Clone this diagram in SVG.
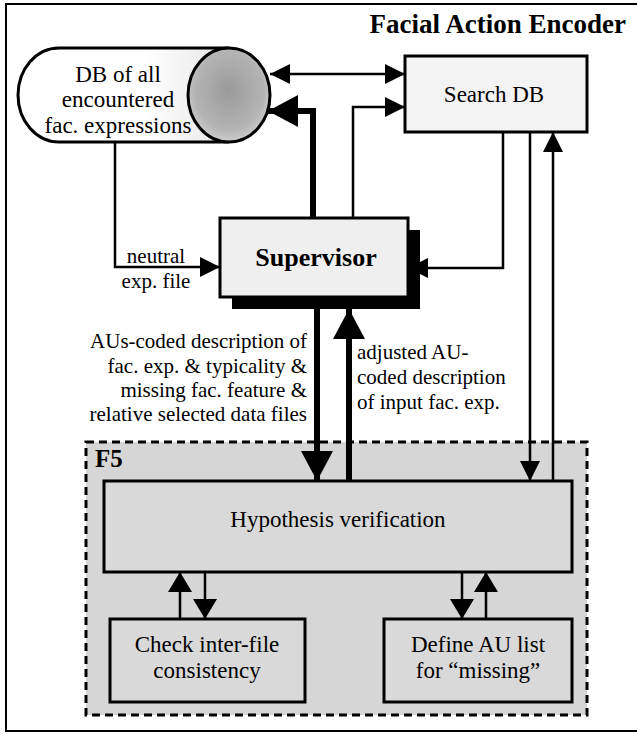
<svg xmlns="http://www.w3.org/2000/svg" width="637" height="734" viewBox="0 0 637 734">
  <style>
    .txt { font-family: "Liberation Serif", "Times New Roman", serif; fill: #000; }
    .node { font-size: 23px; text-anchor: middle; }
    .lbl { font-size: 21px; }
    .bold { font-weight: bold; }
    .box { stroke: #000; stroke-width: 3; }
    .thin { fill: none; stroke: #000; stroke-width: 2.5; }
    .thick { fill: none; stroke: #000; stroke-width: 6; }
  </style>
  <defs>
    <radialGradient id="dbEnd" cx="0.5" cy="0.45" r="0.6">
      <stop offset="0" stop-color="#9a9a9a"/>
      <stop offset="0.7" stop-color="#b4b4b4"/>
      <stop offset="1" stop-color="#d6d6d6"/>
    </radialGradient>
    <linearGradient id="dbBody" x1="0" y1="0" x2="1" y2="0">
      <stop offset="0" stop-color="#ffffff"/>
      <stop offset="0.6" stop-color="#ffffff"/>
      <stop offset="1" stop-color="#e6e6e6"/>
    </linearGradient>
    <marker id="ahThin" markerUnits="userSpaceOnUse" markerWidth="22" markerHeight="22" refX="20" refY="10" orient="auto-start-reverse">
      <path d="M0,0 L20,10 L0,20 Z" fill="#000"/>
    </marker>
    <marker id="ahMid" markerUnits="userSpaceOnUse" markerWidth="22" markerHeight="26" refX="20" refY="12" orient="auto">
      <path d="M0,0 L20,12 L0,24 Z" fill="#000"/>
    </marker>
    <marker id="ahThick" markerUnits="userSpaceOnUse" markerWidth="32" markerHeight="34" refX="30" refY="16" orient="auto">
      <path d="M0,0 L30,16 L0,32 Z" fill="#000"/>
    </marker>
  </defs>

  <!-- outer frame (right edge runs off the sheet) -->
  <rect x="6" y="4" width="640" height="727" fill="#fff" stroke="#000" stroke-width="2"/>

  <text class="txt bold" x="626" y="33" font-size="27" text-anchor="end">Facial Action Encoder</text>

  <!-- F5 group container -->
  <g id="f5">
    <rect x="86" y="442" width="501" height="273" fill="#d6d6d6" stroke="#000" stroke-width="3" stroke-dasharray="8 5"/>
    <text class="txt bold" x="95" y="467" font-size="25">F5</text>
  </g>

  <g id="db">
    <path d="M229,48 H59 A41,47 0 0 0 59,142 H229" fill="url(#dbBody)" stroke="#000" stroke-width="3"/>
    <ellipse cx="229" cy="95" rx="41" ry="47" fill="url(#dbEnd)" stroke="#000" stroke-width="3"/>
    <text class="txt node" x="118" y="82">DB of all</text>
    <text class="txt node" x="118" y="107">encountered</text>
    <text class="txt node" x="118" y="133">fac. expressions</text>
  </g>

  <g id="search-db">
    <rect class="box" x="405" y="56" width="182" height="76" fill="#f3f3f3"/>
    <text class="txt node" x="494" y="102">Search DB</text>
  </g>

  <g id="supervisor">
    <rect x="232" y="230" width="188" height="79" fill="#000"/>
    <rect class="box" x="220" y="218" width="188" height="79" fill="#efefef"/>
    <text class="txt node bold" x="316" y="266" style="font-size:26px">Supervisor</text>
  </g>

  <g id="hypothesis">
    <rect class="box" x="104" y="481" width="468" height="91" fill="#d9d9d9"/>
    <text class="txt node" x="338" y="527">Hypothesis verification</text>
  </g>

  <g id="check">
    <rect class="box" x="110" y="619" width="195" height="83" fill="#d9d9d9"/>
    <text class="txt node" x="207" y="652">Check inter-file</text>
    <text class="txt node" x="207" y="678">consistency</text>
  </g>

  <g id="define-au">
    <rect class="box" x="384" y="619" width="188" height="83" fill="#d9d9d9"/>
    <text class="txt node" x="478" y="652">Define AU list</text>
    <text class="txt node" x="478" y="678">for “missing”</text>
  </g>

  <g id="connectors">
    <path class="thin" d="M270,74 H405" marker-start="url(#ahThin)" marker-end="url(#ahThin)"/>
    <path class="thick" d="M313,218 V111 H268" marker-end="url(#ahThick)"/>
    <path class="thin" d="M353,218 V107 H405" marker-end="url(#ahThin)"/>
    <path class="thin" d="M115,142 V267 H220" marker-end="url(#ahThin)"/>
    <path class="thin" d="M503,132 V268 H408" marker-end="url(#ahThin)"/>
    <path class="thin" d="M530,132 V481" marker-end="url(#ahThin)"/>
    <path class="thin" d="M553,481 V132" marker-end="url(#ahThin)"/>
    <path class="thick" d="M317,309 V481" marker-end="url(#ahThick)"/>
    <path class="thick" d="M349,481 V309" marker-end="url(#ahThick)"/>
    <path class="thin" d="M180,619 V572" marker-end="url(#ahMid)"/>
    <path class="thin" d="M205,572 V619" marker-end="url(#ahMid)"/>
    <path class="thin" d="M462,572 V619" marker-end="url(#ahMid)"/>
    <path class="thin" d="M486,619 V572" marker-end="url(#ahMid)"/>
  </g>

  <!-- edge labels -->
  <g id="labels">
    <text class="txt lbl" x="156" y="263" text-anchor="middle">neutral</text>
    <text class="txt lbl" x="156" y="288" text-anchor="middle">exp. file</text>
    <text class="txt lbl" x="307" y="348" text-anchor="end">AUs-coded description of</text>
    <text class="txt lbl" x="307" y="373" text-anchor="end">fac. exp. &amp; typicality &amp;</text>
    <text class="txt lbl" x="307" y="397" text-anchor="end">missing fac. feature &amp;</text>
    <text class="txt lbl" x="307" y="421" text-anchor="end">relative selected data files</text>
    <text class="txt lbl" x="357" y="359">adjusted AU-</text>
    <text class="txt lbl" x="357" y="384">coded description</text>
    <text class="txt lbl" x="357" y="409">of input fac. exp.</text>
  </g>
</svg>
